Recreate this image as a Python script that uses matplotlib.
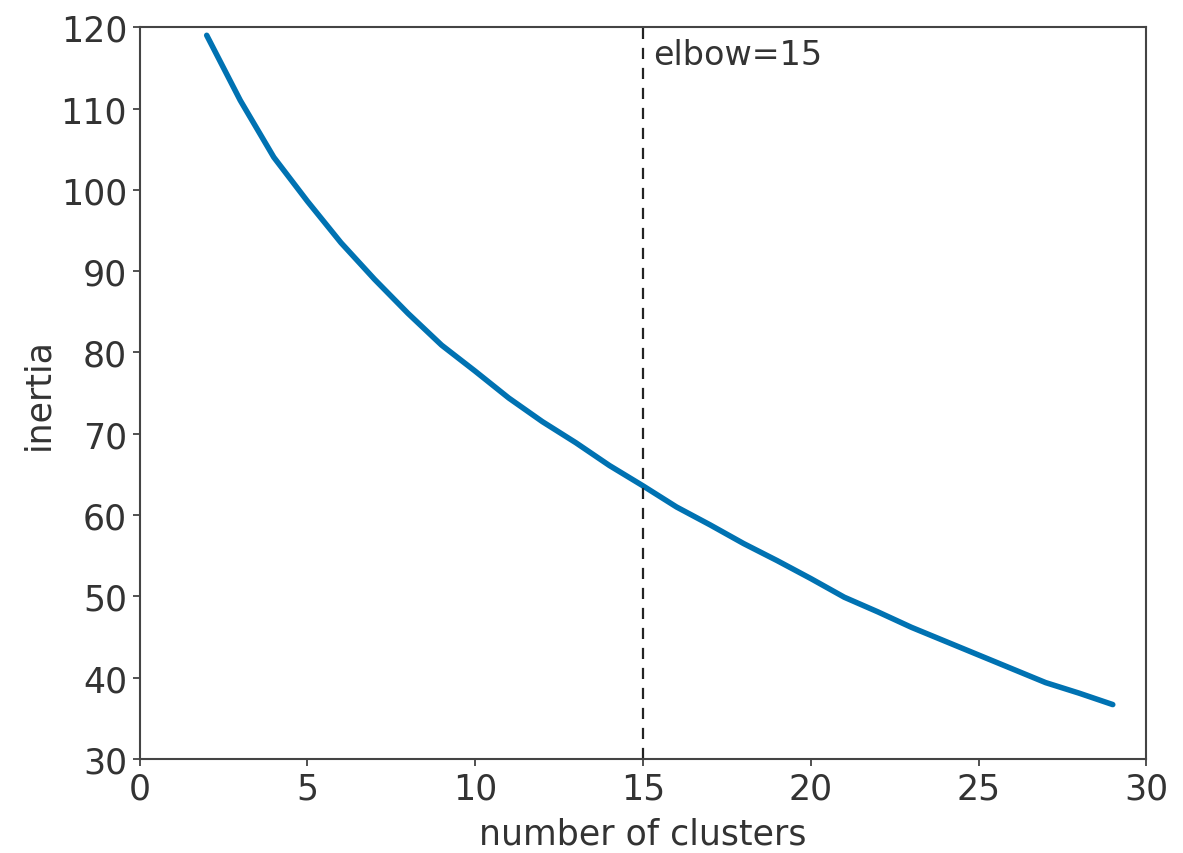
import matplotlib.pyplot as plt

# inertia per number of clusters
clusters = [2, 3, 4, 5, 6, 7, 8, 9, 10, 11, 12, 13, 14, 15, 16,
            17, 18, 19, 20, 21, 22, 23, 24, 25, 26, 27, 28, 29]
inertia = [119.0, 111.0, 104.0, 98.6, 93.5, 89.0, 84.8, 80.9, 77.7, 74.4,
           71.5, 68.9, 66.1, 63.6, 61.0, 58.8, 56.5, 54.4, 52.2, 49.9,
           48.1, 46.2, 44.5, 42.8, 41.1, 39.4, 38.1, 36.7]
elbow = 15

TEXT = '#333333'

plt.rcParams['font.family'] = ['DejaVu Sans']
plt.rcParams['font.size'] = 25

fig = plt.figure(figsize=(11.83, 8.54), dpi=100)
ax = fig.add_axes([0.118, 0.110, 0.851, 0.857])

ax.plot(clusters, inertia, color='#0072b2', lw=4, solid_capstyle='round')
ax.axvline(elbow, color='#222222', ls='--', lw=1.6, dashes=(5, 4))
ax.text(elbow + 0.3, 116.6, 'elbow=%d' % elbow, color=TEXT, va='center', fontsize=24)

ax.set_xlim(0, 30)
ax.set_ylim(30, 120)
ax.set_xticks(range(0, 31, 5))
ax.set_yticks(range(30, 121, 10))
ax.set_xlabel('number of clusters', color=TEXT, labelpad=8)
ax.set_ylabel('inertia', color=TEXT, labelpad=4)
ax.tick_params(colors=TEXT, labelcolor=TEXT, length=5, width=1.2, pad=4)
for s in ax.spines.values():
    s.set_color('#444444')
    s.set_linewidth(1.5)

fig.savefig('out.png', dpi=100)
